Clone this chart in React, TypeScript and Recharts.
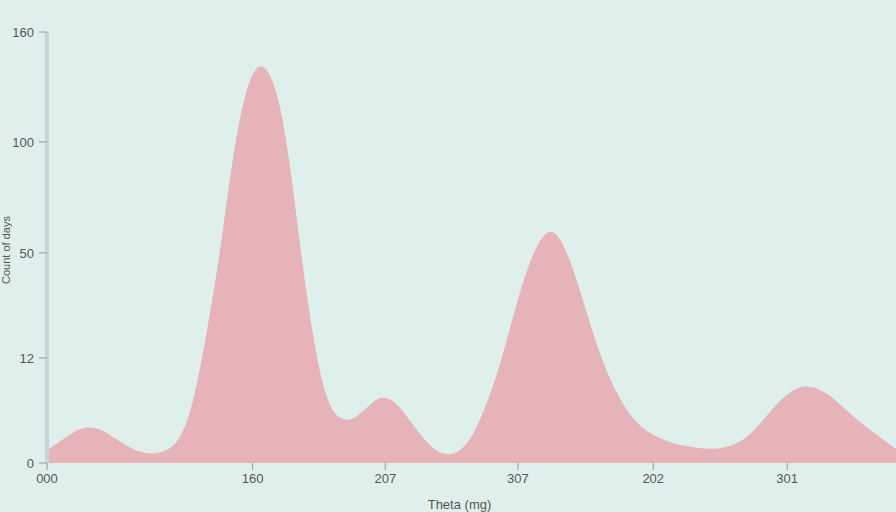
import React from "react";
import { Area, AreaChart, XAxis, YAxis } from "recharts";

const xs = [0, 0.1, 0.2, 0.3, 0.4, 0.5, 0.6, 0.7, 0.8, 0.9, 1.0, 1.1, 1.2, 1.3, 1.4, 1.5, 1.6, 1.7, 1.8, 1.9, 2.0, 2.1, 2.2, 2.3, 2.4, 2.5, 2.6, 2.7, 2.8, 2.9, 3.0, 3.1, 3.2, 3.3, 3.4, 3.5, 3.6, 3.7, 3.8, 3.9, 4.0, 4.1, 4.2, 4.3, 4.4, 4.5, 4.6, 4.7, 4.8, 4.9, 5.0, 5.1, 5.2, 5.3, 5.4, 5.5, 5.6, 5.7, 5.8, 5.9, 6.0, 6.1, 6.2, 6.3, 6.4];
const counts = [0.12, 0.2, 0.29, 0.34, 0.32, 0.24, 0.16, 0.1, 0.08, 0.11, 0.2, 0.52, 1.18, 1.9, 2.86, 3.5, 3.74, 3.6, 3.1, 2.08, 1.18, 0.58, 0.4, 0.39, 0.5, 0.62, 0.6, 0.46, 0.28, 0.14, 0.07, 0.09, 0.22, 0.5, 0.84, 1.3, 1.74, 2.05, 2.2, 2.03, 1.68, 1.26, 0.9, 0.63, 0.43, 0.31, 0.24, 0.19, 0.16, 0.14, 0.13, 0.14, 0.18, 0.26, 0.4, 0.55, 0.66, 0.72, 0.7, 0.63, 0.52, 0.41, 0.31, 0.22, 0.13];

const xTicks = [0, 1.55, 2.55, 3.55, 4.57, 5.58];
const xTickLabels = ["000", "160", "207", "307", "202", "301"];
const yTicks = [0, 0.975, 1.95, 2.98, 4];
const yTickLabels = ["0", "12", "50", "100", "160"];

const data = xs.map((x, i) => ({ x, count: counts[i] }));

const font = "'Liberation Sans', Arial, sans-serif";

const YLabel = () => (
  <text x={6} y={250} transform="rotate(-90, 6, 250)" textAnchor="middle" dominantBaseline="central" fill="#555" fontSize={11}>
    Count of days
  </text>
);

export default function App() {
  return (
    <div style={{ position: "fixed", left: 0, top: 0, width: 896, height: 512, background: "#dff0ec", fontFamily: font }}>
      <AreaChart width={896} height={512} data={data} margin={{ top: 32, right: 0, bottom: 0, left: 0 }}>
        <XAxis
          dataKey="x"
          type="number"
          domain={[0, 6.4]}
          ticks={xTicks}
          tickFormatter={(v: number) => xTickLabels[xTicks.indexOf(v)] ?? ""}
          axisLine={false}
          tickSize={7}
          tickMargin={4}
          tickLine={{ stroke: "#8a9a9a" }}
          tick={{ fill: "#555", fontSize: 13 }}
          height={49}
          interval={0}
          label={{ value: "Theta (mg)", position: "insideBottom", offset: 3, fill: "#555", fontSize: 13, dx: -12 }}
        />
        <YAxis
          type="number"
          domain={[0, 4]}
          ticks={yTicks}
          tickFormatter={(v: number) => yTickLabels[yTicks.indexOf(v)] ?? ""}
          width={47}
          axisLine={{ stroke: "#c6d5d6", strokeWidth: 4 }}
          tickSize={8}
          tickMargin={5}
          tickLine={{ stroke: "#8a9a9a" }}
          tick={{ fill: "#555", fontSize: 13 }}
          interval={0}
          label={<YLabel />}
        />
        <Area
          type="basis"
          dataKey="count"
          stroke="none"
          fill="#e6b4b8"
          fillOpacity={1}
          isAnimationActive={false}
        />
      </AreaChart>
    </div>
  );
}
